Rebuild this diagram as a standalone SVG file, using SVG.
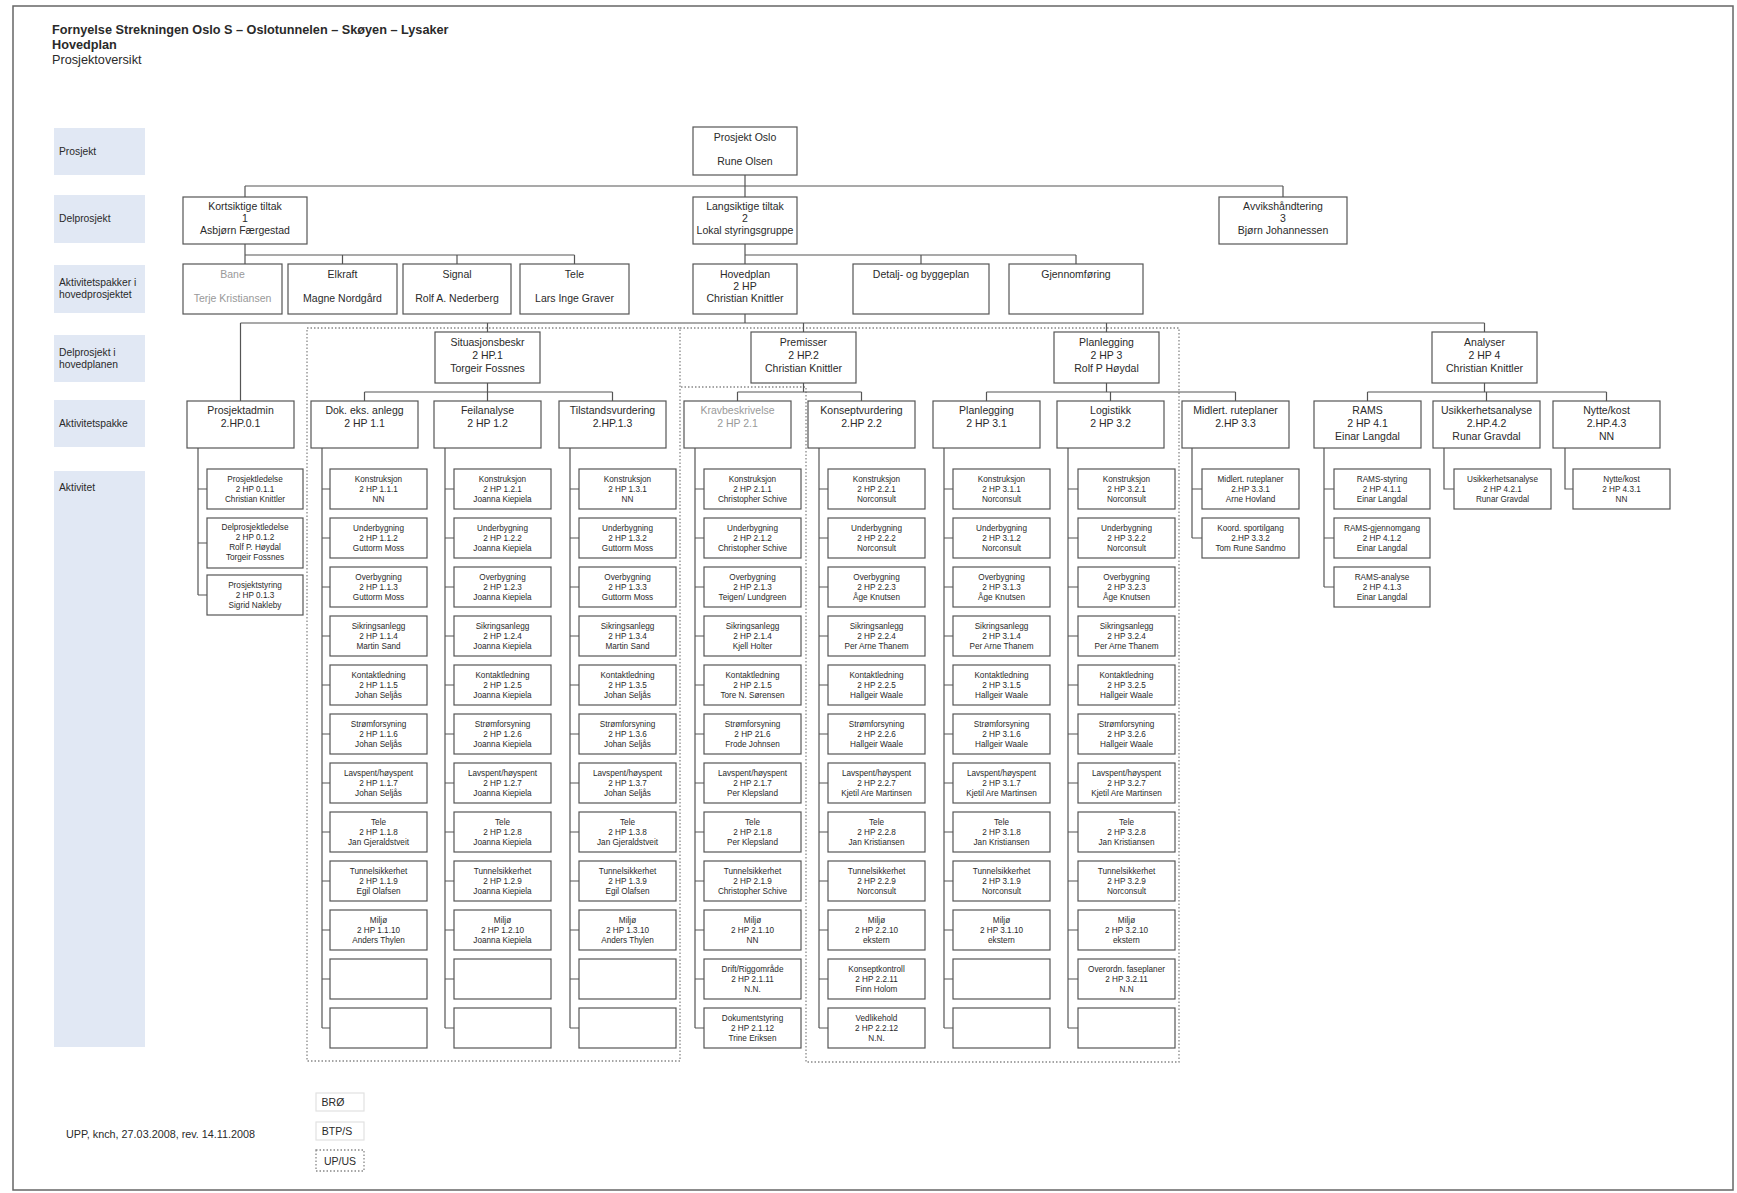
<svg xmlns="http://www.w3.org/2000/svg" width="1737" height="1193" viewBox="0 0 1737 1193">
<style>
text{font-family:"Liberation Sans",Arial,sans-serif;fill:#2a2a2a;text-anchor:middle;font-size:10.5px}
.s{font-size:8.2px}
.l{text-anchor:start;font-size:10.3px}
.g{fill:#999}
.b{fill:#fff;stroke:#555;stroke-width:1.2}
.lab{fill:#e1e8f4}
.c{fill:none;stroke:#555;stroke-width:1.2}
.d{fill:none;stroke:#888;stroke-width:1.3;stroke-dasharray:1.5 2}
.h{text-anchor:start;font-size:12.7px}
</style>
<rect x="0" y="0" width="1737" height="1193" fill="#fff"/>
<rect x="13" y="6" width="1720" height="1184" fill="none" stroke="#666" stroke-width="1.5"/>
<g id="title">
<text class="h" x="52" y="34" font-weight="bold">Fornyelse Strekningen Oslo S – Oslotunnelen – Skøyen – Lysaker</text>
<text class="h" x="52" y="49" font-weight="bold">Hovedplan</text>
<text class="h" x="52" y="64">Prosjektoversikt</text>
</g>
<g id="labels">
<rect class="lab" x="54" y="128" width="91" height="47"/><text class="l" x="59" y="155">Prosjekt</text>
<rect class="lab" x="54" y="195" width="91" height="48"/><text class="l" x="59" y="222">Delprosjekt</text>
<rect class="lab" x="54" y="265" width="91" height="48"/><text class="l" x="59" y="286">Aktivitetspakker i</text><text class="l" x="59" y="298">hovedprosjektet</text>
<rect class="lab" x="54" y="335" width="91" height="47"/><text class="l" x="59" y="356">Delprosjekt i</text><text class="l" x="59" y="368">hovedplanen</text>
<rect class="lab" x="54" y="400" width="91" height="47"/><text class="l" x="59" y="427">Aktivitetspakke</text>
<rect class="lab" x="54" y="471" width="91" height="576"/><text class="l" x="59" y="491">Aktivitet</text>
</g>
<g id="regions">
<rect class="d" x="307" y="328" width="373" height="733"/>
<path class="d" d="M680,328 H1179 V1062 H806 V387 H680"/>
</g>
<g id="connectors">
<path class="c" d="M745,175 V197 M245,186 H1283 M245,186 V197 M1283,186 V197"/>
<path class="c" d="M245,244 V264 M245,255 H574.5 M342.5,255 V264 M457,255 V264 M574.5,255 V264"/>
<path class="c" d="M745,244 V264 M745,255 H1076 M921,255 V264 M1076,255 V264"/>
<path class="c" d="M745,314 V323 M240.5,323 H1484.5 M240.5,323 V401 M487.5,323 V332 M803.5,323 V332 M1106.5,323 V332 M1484.5,323 V332"/>
<path class="c" d="M487.5,383 V392 M364.5,392 H612.5 M364.5,392 V401 M487.5,392 V401 M612.5,392 V401"/>
<path class="c" d="M803.5,383 V392 M737.5,392 H861.5 M737.5,392 V401 M861.5,392 V401"/>
<path class="c" d="M1106.5,383 V392 M986.5,392 H1235.5 M986.5,392 V401 M1110.5,392 V401 M1235.5,392 V401"/>
<path class="c" d="M1484.5,383 V392 M1367.5,392 H1606.5 M1367.5,392 V401 M1486.5,392 V401 M1606.5,392 V401"/>
<path class="c" d="M198,448 V595 M198,489 H207 M198,543 H207 M198,595 H207"/>
<path class="c" d="M322,448 V1028 M322,489 H330 M322,538 H330 M322,587 H330 M322,636 H330 M322,685 H330 M322,734 H330 M322,783 H330 M322,832 H330 M322,881 H330 M322,930 H330 M322,979 H330 M322,1028 H330"/>
<path class="c" d="M445,448 V1028 M445,489 H454 M445,538 H454 M445,587 H454 M445,636 H454 M445,685 H454 M445,734 H454 M445,783 H454 M445,832 H454 M445,881 H454 M445,930 H454 M445,979 H454 M445,1028 H454"/>
<path class="c" d="M570,448 V1028 M570,489 H579 M570,538 H579 M570,587 H579 M570,636 H579 M570,685 H579 M570,734 H579 M570,783 H579 M570,832 H579 M570,881 H579 M570,930 H579 M570,979 H579 M570,1028 H579"/>
<path class="c" d="M695,448 V1028 M695,489 H704 M695,538 H704 M695,587 H704 M695,636 H704 M695,685 H704 M695,734 H704 M695,783 H704 M695,832 H704 M695,881 H704 M695,930 H704 M695,979 H704 M695,1028 H704"/>
<path class="c" d="M819,448 V1028 M819,489 H828 M819,538 H828 M819,587 H828 M819,636 H828 M819,685 H828 M819,734 H828 M819,783 H828 M819,832 H828 M819,881 H828 M819,930 H828 M819,979 H828 M819,1028 H828"/>
<path class="c" d="M944,448 V1028 M944,489 H953 M944,538 H953 M944,587 H953 M944,636 H953 M944,685 H953 M944,734 H953 M944,783 H953 M944,832 H953 M944,881 H953 M944,930 H953 M944,979 H953 M944,1028 H953"/>
<path class="c" d="M1068,448 V1028 M1068,489 H1078 M1068,538 H1078 M1068,587 H1078 M1068,636 H1078 M1068,685 H1078 M1068,734 H1078 M1068,783 H1078 M1068,832 H1078 M1068,881 H1078 M1068,930 H1078 M1068,979 H1078 M1068,1028 H1078"/>
<path class="c" d="M1192,448 V538 M1192,489 H1202 M1192,538 H1202"/>
<path class="c" d="M1324,448 V587 M1324,489 H1334 M1324,538 H1334 M1324,587 H1334"/>
<path class="c" d="M1444,448 V489 H1454"/>
<path class="c" d="M1565,448 V489 H1573"/>
</g>
<g id="n-prosjekt-oslo"><rect class="b" x="693" y="127" width="104" height="48"/><text x="745" y="141">Prosjekt Oslo</text><text x="745" y="165">Rune Olsen</text></g>
<g id="n-kortsiktige"><rect class="b" x="183" y="197" width="124" height="47"/><text><tspan x="245" y="210">Kortsiktige tiltak</tspan><tspan x="245" y="222">1</tspan><tspan x="245" y="234">Asbjørn Færgestad</tspan></text></g>
<g id="n-langsiktige"><rect class="b" x="693" y="197" width="104" height="47"/><text><tspan x="745" y="210">Langsiktige tiltak</tspan><tspan x="745" y="222">2</tspan><tspan x="745" y="234">Lokal styringsgruppe</tspan></text></g>
<g id="n-avvik"><rect class="b" x="1219" y="197" width="128" height="47"/><text><tspan x="1283" y="210">Avvikshåndtering</tspan><tspan x="1283" y="222">3</tspan><tspan x="1283" y="234">Bjørn Johannessen</tspan></text></g>
<g id="n-bane"><rect class="b" x="183" y="264" width="99" height="50"/><text class="g" x="232.5" y="278">Bane</text><text class="g" x="232.5" y="302">Terje Kristiansen</text></g>
<g id="n-elkraft"><rect class="b" x="288" y="264" width="109" height="50"/><text x="342.5" y="278">Elkraft</text><text x="342.5" y="302">Magne Nordgård</text></g>
<g id="n-signal"><rect class="b" x="403" y="264" width="108" height="50"/><text x="457" y="278">Signal</text><text x="457" y="302">Rolf A. Nederberg</text></g>
<g id="n-tele"><rect class="b" x="520" y="264" width="109" height="50"/><text x="574.5" y="278">Tele</text><text x="574.5" y="302">Lars Inge Graver</text></g>
<g id="n-hovedplan"><rect class="b" x="693" y="264" width="104" height="50"/><text><tspan x="745" y="278">Hovedplan</tspan><tspan x="745" y="290">2 HP</tspan><tspan x="745" y="302">Christian Knittler</tspan></text></g>
<g id="n-detalj"><rect class="b" x="853" y="264" width="136" height="50"/><text x="921" y="278">Detalj- og byggeplan</text></g>
<g id="n-gjennomforing"><rect class="b" x="1009" y="264" width="134" height="50"/><text x="1076" y="278">Gjennomføring</text></g>
<g id="n-2hp1"><rect class="b" x="435" y="332" width="105" height="51"/><text><tspan x="487.5" y="346">Situasjonsbeskr</tspan><tspan x="487.5" y="359">2 HP.1</tspan><tspan x="487.5" y="372">Torgeir Fossnes</tspan></text></g>
<g id="n-2hp2"><rect class="b" x="751" y="332" width="105" height="51"/><text><tspan x="803.5" y="346">Premisser</tspan><tspan x="803.5" y="359">2 HP.2</tspan><tspan x="803.5" y="372">Christian Knittler</tspan></text></g>
<g id="n-2hp3"><rect class="b" x="1054" y="332" width="105" height="51"/><text><tspan x="1106.5" y="346">Planlegging</tspan><tspan x="1106.5" y="359">2 HP 3</tspan><tspan x="1106.5" y="372">Rolf P Høydal</tspan></text></g>
<g id="n-2hp4"><rect class="b" x="1432" y="332" width="105" height="51"/><text><tspan x="1484.5" y="346">Analyser</tspan><tspan x="1484.5" y="359">2 HP 4</tspan><tspan x="1484.5" y="372">Christian Knittler</tspan></text></g>
<g id="n-2hp01"><rect class="b" x="187" y="401" width="107" height="47"/><text><tspan x="240.5" y="414">Prosjektadmin</tspan><tspan x="240.5" y="427">2.HP.0.1</tspan></text></g>
<g id="n-2hp11"><rect class="b" x="311" y="401" width="107" height="47"/><text><tspan x="364.5" y="414">Dok. eks. anlegg</tspan><tspan x="364.5" y="427">2 HP 1.1</tspan></text></g>
<g id="n-2hp12"><rect class="b" x="434" y="401" width="107" height="47"/><text><tspan x="487.5" y="414">Feilanalyse</tspan><tspan x="487.5" y="427">2 HP 1.2</tspan></text></g>
<g id="n-2hp13"><rect class="b" x="559" y="401" width="107" height="47"/><text><tspan x="612.5" y="414">Tilstandsvurdering</tspan><tspan x="612.5" y="427">2.HP.1.3</tspan></text></g>
<g id="n-2hp21"><rect class="b" x="684" y="401" width="107" height="47"/><text class="g"><tspan x="737.5" y="414">Kravbeskrivelse</tspan><tspan x="737.5" y="427">2 HP 2.1</tspan></text></g>
<g id="n-2hp22"><rect class="b" x="808" y="401" width="107" height="47"/><text><tspan x="861.5" y="414">Konseptvurdering</tspan><tspan x="861.5" y="427">2.HP 2.2</tspan></text></g>
<g id="n-2hp31"><rect class="b" x="933" y="401" width="107" height="47"/><text><tspan x="986.5" y="414">Planlegging</tspan><tspan x="986.5" y="427">2 HP 3.1</tspan></text></g>
<g id="n-2hp32"><rect class="b" x="1057" y="401" width="107" height="47"/><text><tspan x="1110.5" y="414">Logistikk</tspan><tspan x="1110.5" y="427">2 HP 3.2</tspan></text></g>
<g id="n-2hp33"><rect class="b" x="1182" y="401" width="107" height="47"/><text><tspan x="1235.5" y="414">Midlert. ruteplaner</tspan><tspan x="1235.5" y="427">2.HP 3.3</tspan></text></g>
<g id="n-2hp41"><rect class="b" x="1314" y="401" width="107" height="47"/><text><tspan x="1367.5" y="414">RAMS</tspan><tspan x="1367.5" y="427">2 HP 4.1</tspan><tspan x="1367.5" y="440">Einar Langdal</tspan></text></g>
<g id="n-2hp42"><rect class="b" x="1433" y="401" width="107" height="47"/><text><tspan x="1486.5" y="414">Usikkerhetsanalyse</tspan><tspan x="1486.5" y="427">2.HP.4.2</tspan><tspan x="1486.5" y="440">Runar Gravdal</tspan></text></g>
<g id="n-2hp43"><rect class="b" x="1553" y="401" width="107" height="47"/><text><tspan x="1606.5" y="414">Nytte/kost</tspan><tspan x="1606.5" y="427">2.HP.4.3</tspan><tspan x="1606.5" y="440">NN</tspan></text></g>

<g id="n-2hp011"><rect class="b" x="207" y="469" width="96" height="40"/><text class="s"><tspan x="255" y="482">Prosjektledelse</tspan><tspan x="255" y="492">2 HP 0.1.1</tspan><tspan x="255" y="502">Christian Knittler</tspan></text></g>
<g id="n-2hp012"><rect class="b" x="207" y="518" width="96" height="50"/><text class="s"><tspan x="255" y="530">Delprosjektledelse</tspan><tspan x="255" y="540">2 HP 0.1.2</tspan><tspan x="255" y="550">Rolf P. Høydal</tspan><tspan x="255" y="560">Torgeir Fossnes</tspan></text></g>
<g id="n-2hp013"><rect class="b" x="207" y="575" width="96" height="40"/><text class="s"><tspan x="255" y="588">Prosjektstyring</tspan><tspan x="255" y="598">2 HP 0.1.3</tspan><tspan x="255" y="608">Sigrid Nakleby</tspan></text></g>

<g id="n-2hp111"><rect class="b" x="330" y="469" width="97" height="40"/><text class="s"><tspan x="378.5" y="482">Konstruksjon</tspan><tspan x="378.5" y="492">2 HP 1.1.1</tspan><tspan x="378.5" y="502">NN</tspan></text></g>
<g id="n-2hp112"><rect class="b" x="330" y="518" width="97" height="40"/><text class="s"><tspan x="378.5" y="531">Underbygning</tspan><tspan x="378.5" y="541">2 HP 1.1.2</tspan><tspan x="378.5" y="551">Guttorm Moss</tspan></text></g>
<g id="n-2hp113"><rect class="b" x="330" y="567" width="97" height="40"/><text class="s"><tspan x="378.5" y="580">Overbygning</tspan><tspan x="378.5" y="590">2 HP 1.1.3</tspan><tspan x="378.5" y="600">Guttorm Moss</tspan></text></g>
<g id="n-2hp114"><rect class="b" x="330" y="616" width="97" height="40"/><text class="s"><tspan x="378.5" y="629">Sikringsanlegg</tspan><tspan x="378.5" y="639">2 HP 1.1.4</tspan><tspan x="378.5" y="649">Martin Sand</tspan></text></g>
<g id="n-2hp115"><rect class="b" x="330" y="665" width="97" height="40"/><text class="s"><tspan x="378.5" y="678">Kontaktledning</tspan><tspan x="378.5" y="688">2 HP 1.1.5</tspan><tspan x="378.5" y="698">Johan Seljås</tspan></text></g>
<g id="n-2hp116"><rect class="b" x="330" y="714" width="97" height="40"/><text class="s"><tspan x="378.5" y="727">Strømforsyning</tspan><tspan x="378.5" y="737">2 HP 1.1.6</tspan><tspan x="378.5" y="747">Johan Seljås</tspan></text></g>
<g id="n-2hp117"><rect class="b" x="330" y="763" width="97" height="40"/><text class="s"><tspan x="378.5" y="776">Lavspent/høyspent</tspan><tspan x="378.5" y="786">2 HP 1.1.7</tspan><tspan x="378.5" y="796">Johan Seljås</tspan></text></g>
<g id="n-2hp118"><rect class="b" x="330" y="812" width="97" height="40"/><text class="s"><tspan x="378.5" y="825">Tele</tspan><tspan x="378.5" y="835">2 HP 1.1.8</tspan><tspan x="378.5" y="845">Jan Gjeraldstveit</tspan></text></g>
<g id="n-2hp119"><rect class="b" x="330" y="861" width="97" height="40"/><text class="s"><tspan x="378.5" y="874">Tunnelsikkerhet</tspan><tspan x="378.5" y="884">2 HP 1.1.9</tspan><tspan x="378.5" y="894">Egil Olafsen</tspan></text></g>
<g id="n-2hp1110"><rect class="b" x="330" y="910" width="97" height="40"/><text class="s"><tspan x="378.5" y="923">Miljø</tspan><tspan x="378.5" y="933">2 HP 1.1.10</tspan><tspan x="378.5" y="943">Anders Thylen</tspan></text></g>
<g id="n-2hp11-e1"><rect class="b" x="330" y="959" width="97" height="40"/></g>
<g id="n-2hp11-e2"><rect class="b" x="330" y="1008" width="97" height="40"/></g>

<g id="n-2hp121"><rect class="b" x="454" y="469" width="97" height="40"/><text class="s"><tspan x="502.5" y="482">Konstruksjon</tspan><tspan x="502.5" y="492">2 HP 1.2.1</tspan><tspan x="502.5" y="502">Joanna Kiepiela</tspan></text></g>
<g id="n-2hp122"><rect class="b" x="454" y="518" width="97" height="40"/><text class="s"><tspan x="502.5" y="531">Underbygning</tspan><tspan x="502.5" y="541">2 HP 1.2.2</tspan><tspan x="502.5" y="551">Joanna Kiepiela</tspan></text></g>
<g id="n-2hp123"><rect class="b" x="454" y="567" width="97" height="40"/><text class="s"><tspan x="502.5" y="580">Overbygning</tspan><tspan x="502.5" y="590">2 HP 1.2.3</tspan><tspan x="502.5" y="600">Joanna Kiepiela</tspan></text></g>
<g id="n-2hp124"><rect class="b" x="454" y="616" width="97" height="40"/><text class="s"><tspan x="502.5" y="629">Sikringsanlegg</tspan><tspan x="502.5" y="639">2 HP 1.2.4</tspan><tspan x="502.5" y="649">Joanna Kiepiela</tspan></text></g>
<g id="n-2hp125"><rect class="b" x="454" y="665" width="97" height="40"/><text class="s"><tspan x="502.5" y="678">Kontaktledning</tspan><tspan x="502.5" y="688">2 HP 1.2.5</tspan><tspan x="502.5" y="698">Joanna Kiepiela</tspan></text></g>
<g id="n-2hp126"><rect class="b" x="454" y="714" width="97" height="40"/><text class="s"><tspan x="502.5" y="727">Strømforsyning</tspan><tspan x="502.5" y="737">2 HP 1.2.6</tspan><tspan x="502.5" y="747">Joanna Kiepiela</tspan></text></g>
<g id="n-2hp127"><rect class="b" x="454" y="763" width="97" height="40"/><text class="s"><tspan x="502.5" y="776">Lavspent/høyspent</tspan><tspan x="502.5" y="786">2 HP 1.2.7</tspan><tspan x="502.5" y="796">Joanna Kiepiela</tspan></text></g>
<g id="n-2hp128"><rect class="b" x="454" y="812" width="97" height="40"/><text class="s"><tspan x="502.5" y="825">Tele</tspan><tspan x="502.5" y="835">2 HP 1.2.8</tspan><tspan x="502.5" y="845">Joanna Kiepiela</tspan></text></g>
<g id="n-2hp129"><rect class="b" x="454" y="861" width="97" height="40"/><text class="s"><tspan x="502.5" y="874">Tunnelsikkerhet</tspan><tspan x="502.5" y="884">2 HP 1.2.9</tspan><tspan x="502.5" y="894">Joanna Kiepiela</tspan></text></g>
<g id="n-2hp1210"><rect class="b" x="454" y="910" width="97" height="40"/><text class="s"><tspan x="502.5" y="923">Miljø</tspan><tspan x="502.5" y="933">2 HP 1.2.10</tspan><tspan x="502.5" y="943">Joanna Kiepiela</tspan></text></g>
<g id="n-2hp12-e1"><rect class="b" x="454" y="959" width="97" height="40"/></g>
<g id="n-2hp12-e2"><rect class="b" x="454" y="1008" width="97" height="40"/></g>

<g id="n-2hp131"><rect class="b" x="579" y="469" width="97" height="40"/><text class="s"><tspan x="627.5" y="482">Konstruksjon</tspan><tspan x="627.5" y="492">2 HP 1.3.1</tspan><tspan x="627.5" y="502">NN</tspan></text></g>
<g id="n-2hp132"><rect class="b" x="579" y="518" width="97" height="40"/><text class="s"><tspan x="627.5" y="531">Underbygning</tspan><tspan x="627.5" y="541">2 HP 1.3.2</tspan><tspan x="627.5" y="551">Guttorm Moss</tspan></text></g>
<g id="n-2hp133"><rect class="b" x="579" y="567" width="97" height="40"/><text class="s"><tspan x="627.5" y="580">Overbygning</tspan><tspan x="627.5" y="590">2 HP 1.3.3</tspan><tspan x="627.5" y="600">Guttorm Moss</tspan></text></g>
<g id="n-2hp134"><rect class="b" x="579" y="616" width="97" height="40"/><text class="s"><tspan x="627.5" y="629">Sikringsanlegg</tspan><tspan x="627.5" y="639">2 HP 1.3.4</tspan><tspan x="627.5" y="649">Martin Sand</tspan></text></g>
<g id="n-2hp135"><rect class="b" x="579" y="665" width="97" height="40"/><text class="s"><tspan x="627.5" y="678">Kontaktledning</tspan><tspan x="627.5" y="688">2 HP 1.3.5</tspan><tspan x="627.5" y="698">Johan Seljås</tspan></text></g>
<g id="n-2hp136"><rect class="b" x="579" y="714" width="97" height="40"/><text class="s"><tspan x="627.5" y="727">Strømforsyning</tspan><tspan x="627.5" y="737">2 HP 1.3.6</tspan><tspan x="627.5" y="747">Johan Seljås</tspan></text></g>
<g id="n-2hp137"><rect class="b" x="579" y="763" width="97" height="40"/><text class="s"><tspan x="627.5" y="776">Lavspent/høyspent</tspan><tspan x="627.5" y="786">2 HP 1.3.7</tspan><tspan x="627.5" y="796">Johan Seljås</tspan></text></g>
<g id="n-2hp138"><rect class="b" x="579" y="812" width="97" height="40"/><text class="s"><tspan x="627.5" y="825">Tele</tspan><tspan x="627.5" y="835">2 HP 1.3.8</tspan><tspan x="627.5" y="845">Jan Gjeraldstveit</tspan></text></g>
<g id="n-2hp139"><rect class="b" x="579" y="861" width="97" height="40"/><text class="s"><tspan x="627.5" y="874">Tunnelsikkerhet</tspan><tspan x="627.5" y="884">2 HP 1.3.9</tspan><tspan x="627.5" y="894">Egil Olafsen</tspan></text></g>
<g id="n-2hp1310"><rect class="b" x="579" y="910" width="97" height="40"/><text class="s"><tspan x="627.5" y="923">Miljø</tspan><tspan x="627.5" y="933">2 HP 1.3.10</tspan><tspan x="627.5" y="943">Anders Thylen</tspan></text></g>
<g id="n-2hp13-e1"><rect class="b" x="579" y="959" width="97" height="40"/></g>
<g id="n-2hp13-e2"><rect class="b" x="579" y="1008" width="97" height="40"/></g>

<g id="n-2hp211"><rect class="b" x="704" y="469" width="97" height="40"/><text class="s"><tspan x="752.5" y="482">Konstruksjon</tspan><tspan x="752.5" y="492">2 HP 2.1.1</tspan><tspan x="752.5" y="502">Christopher Schive</tspan></text></g>
<g id="n-2hp212"><rect class="b" x="704" y="518" width="97" height="40"/><text class="s"><tspan x="752.5" y="531">Underbygning</tspan><tspan x="752.5" y="541">2 HP 2.1.2</tspan><tspan x="752.5" y="551">Christopher Schive</tspan></text></g>
<g id="n-2hp213"><rect class="b" x="704" y="567" width="97" height="40"/><text class="s"><tspan x="752.5" y="580">Overbygning</tspan><tspan x="752.5" y="590">2 HP 2.1.3</tspan><tspan x="752.5" y="600">Teigen/ Lundgreen</tspan></text></g>
<g id="n-2hp214"><rect class="b" x="704" y="616" width="97" height="40"/><text class="s"><tspan x="752.5" y="629">Sikringsanlegg</tspan><tspan x="752.5" y="639">2 HP 2.1.4</tspan><tspan x="752.5" y="649">Kjell Holter</tspan></text></g>
<g id="n-2hp215"><rect class="b" x="704" y="665" width="97" height="40"/><text class="s"><tspan x="752.5" y="678">Kontaktledning</tspan><tspan x="752.5" y="688">2 HP 2.1.5</tspan><tspan x="752.5" y="698">Tore N. Sørensen</tspan></text></g>
<g id="n-2hp216"><rect class="b" x="704" y="714" width="97" height="40"/><text class="s"><tspan x="752.5" y="727">Strømforsyning</tspan><tspan x="752.5" y="737">2 HP 21.6</tspan><tspan x="752.5" y="747">Frode Johnsen</tspan></text></g>
<g id="n-2hp217"><rect class="b" x="704" y="763" width="97" height="40"/><text class="s"><tspan x="752.5" y="776">Lavspent/høyspent</tspan><tspan x="752.5" y="786">2 HP 2.1.7</tspan><tspan x="752.5" y="796">Per Klepsland</tspan></text></g>
<g id="n-2hp218"><rect class="b" x="704" y="812" width="97" height="40"/><text class="s"><tspan x="752.5" y="825">Tele</tspan><tspan x="752.5" y="835">2 HP 2.1.8</tspan><tspan x="752.5" y="845">Per Klepsland</tspan></text></g>
<g id="n-2hp219"><rect class="b" x="704" y="861" width="97" height="40"/><text class="s"><tspan x="752.5" y="874">Tunnelsikkerhet</tspan><tspan x="752.5" y="884">2 HP 2.1.9</tspan><tspan x="752.5" y="894">Christopher Schive</tspan></text></g>
<g id="n-2hp2110"><rect class="b" x="704" y="910" width="97" height="40"/><text class="s"><tspan x="752.5" y="923">Miljø</tspan><tspan x="752.5" y="933">2 HP 2.1.10</tspan><tspan x="752.5" y="943">NN</tspan></text></g>
<g id="n-2hp2111"><rect class="b" x="704" y="959" width="97" height="40"/><text class="s"><tspan x="752.5" y="972">Drift/Riggområde</tspan><tspan x="752.5" y="982">2 HP 2.1.11</tspan><tspan x="752.5" y="992">N.N.</tspan></text></g>
<g id="n-2hp2112"><rect class="b" x="704" y="1008" width="97" height="40"/><text class="s"><tspan x="752.5" y="1021">Dokumentstyring</tspan><tspan x="752.5" y="1031">2 HP 2.1.12</tspan><tspan x="752.5" y="1041">Trine Eriksen</tspan></text></g>

<g id="n-2hp221"><rect class="b" x="828" y="469" width="97" height="40"/><text class="s"><tspan x="876.5" y="482">Konstruksjon</tspan><tspan x="876.5" y="492">2 HP 2.2.1</tspan><tspan x="876.5" y="502">Norconsult</tspan></text></g>
<g id="n-2hp222"><rect class="b" x="828" y="518" width="97" height="40"/><text class="s"><tspan x="876.5" y="531">Underbygning</tspan><tspan x="876.5" y="541">2 HP 2.2.2</tspan><tspan x="876.5" y="551">Norconsult</tspan></text></g>
<g id="n-2hp223"><rect class="b" x="828" y="567" width="97" height="40"/><text class="s"><tspan x="876.5" y="580">Overbygning</tspan><tspan x="876.5" y="590">2 HP 2.2.3</tspan><tspan x="876.5" y="600">Åge Knutsen</tspan></text></g>
<g id="n-2hp224"><rect class="b" x="828" y="616" width="97" height="40"/><text class="s"><tspan x="876.5" y="629">Sikringsanlegg</tspan><tspan x="876.5" y="639">2 HP 2.2.4</tspan><tspan x="876.5" y="649">Per Arne Thanem</tspan></text></g>
<g id="n-2hp225"><rect class="b" x="828" y="665" width="97" height="40"/><text class="s"><tspan x="876.5" y="678">Kontaktledning</tspan><tspan x="876.5" y="688">2 HP 2.2.5</tspan><tspan x="876.5" y="698">Hallgeir Waale</tspan></text></g>
<g id="n-2hp226"><rect class="b" x="828" y="714" width="97" height="40"/><text class="s"><tspan x="876.5" y="727">Strømforsyning</tspan><tspan x="876.5" y="737">2 HP 2.2.6</tspan><tspan x="876.5" y="747">Hallgeir Waale</tspan></text></g>
<g id="n-2hp227"><rect class="b" x="828" y="763" width="97" height="40"/><text class="s"><tspan x="876.5" y="776">Lavspent/høyspent</tspan><tspan x="876.5" y="786">2 HP 2.2.7</tspan><tspan x="876.5" y="796">Kjetil Are Martinsen</tspan></text></g>
<g id="n-2hp228"><rect class="b" x="828" y="812" width="97" height="40"/><text class="s"><tspan x="876.5" y="825">Tele</tspan><tspan x="876.5" y="835">2 HP 2.2.8</tspan><tspan x="876.5" y="845">Jan Kristiansen</tspan></text></g>
<g id="n-2hp229"><rect class="b" x="828" y="861" width="97" height="40"/><text class="s"><tspan x="876.5" y="874">Tunnelsikkerhet</tspan><tspan x="876.5" y="884">2 HP 2.2.9</tspan><tspan x="876.5" y="894">Norconsult</tspan></text></g>
<g id="n-2hp2210"><rect class="b" x="828" y="910" width="97" height="40"/><text class="s"><tspan x="876.5" y="923">Miljø</tspan><tspan x="876.5" y="933">2 HP 2.2.10</tspan><tspan x="876.5" y="943">ekstern</tspan></text></g>
<g id="n-2hp2211"><rect class="b" x="828" y="959" width="97" height="40"/><text class="s"><tspan x="876.5" y="972">Konseptkontroll</tspan><tspan x="876.5" y="982">2 HP 2.2.11</tspan><tspan x="876.5" y="992">Finn Holom</tspan></text></g>
<g id="n-2hp2212"><rect class="b" x="828" y="1008" width="97" height="40"/><text class="s"><tspan x="876.5" y="1021">Vedlikehold</tspan><tspan x="876.5" y="1031">2 HP 2.2.12</tspan><tspan x="876.5" y="1041">N.N.</tspan></text></g>

<g id="n-2hp311"><rect class="b" x="953" y="469" width="97" height="40"/><text class="s"><tspan x="1001.5" y="482">Konstruksjon</tspan><tspan x="1001.5" y="492">2 HP 3.1.1</tspan><tspan x="1001.5" y="502">Norconsult</tspan></text></g>
<g id="n-2hp312"><rect class="b" x="953" y="518" width="97" height="40"/><text class="s"><tspan x="1001.5" y="531">Underbygning</tspan><tspan x="1001.5" y="541">2 HP 3.1.2</tspan><tspan x="1001.5" y="551">Norconsult</tspan></text></g>
<g id="n-2hp313"><rect class="b" x="953" y="567" width="97" height="40"/><text class="s"><tspan x="1001.5" y="580">Overbygning</tspan><tspan x="1001.5" y="590">2 HP 3.1.3</tspan><tspan x="1001.5" y="600">Åge Knutsen</tspan></text></g>
<g id="n-2hp314"><rect class="b" x="953" y="616" width="97" height="40"/><text class="s"><tspan x="1001.5" y="629">Sikringsanlegg</tspan><tspan x="1001.5" y="639">2 HP 3.1.4</tspan><tspan x="1001.5" y="649">Per Arne Thanem</tspan></text></g>
<g id="n-2hp315"><rect class="b" x="953" y="665" width="97" height="40"/><text class="s"><tspan x="1001.5" y="678">Kontaktledning</tspan><tspan x="1001.5" y="688">2 HP 3.1.5</tspan><tspan x="1001.5" y="698">Hallgeir Waale</tspan></text></g>
<g id="n-2hp316"><rect class="b" x="953" y="714" width="97" height="40"/><text class="s"><tspan x="1001.5" y="727">Strømforsyning</tspan><tspan x="1001.5" y="737">2 HP 3.1.6</tspan><tspan x="1001.5" y="747">Hallgeir Waale</tspan></text></g>
<g id="n-2hp317"><rect class="b" x="953" y="763" width="97" height="40"/><text class="s"><tspan x="1001.5" y="776">Lavspent/høyspent</tspan><tspan x="1001.5" y="786">2 HP 3.1.7</tspan><tspan x="1001.5" y="796">Kjetil Are Martinsen</tspan></text></g>
<g id="n-2hp318"><rect class="b" x="953" y="812" width="97" height="40"/><text class="s"><tspan x="1001.5" y="825">Tele</tspan><tspan x="1001.5" y="835">2 HP 3.1.8</tspan><tspan x="1001.5" y="845">Jan Kristiansen</tspan></text></g>
<g id="n-2hp319"><rect class="b" x="953" y="861" width="97" height="40"/><text class="s"><tspan x="1001.5" y="874">Tunnelsikkerhet</tspan><tspan x="1001.5" y="884">2 HP 3.1.9</tspan><tspan x="1001.5" y="894">Norconsult</tspan></text></g>
<g id="n-2hp3110"><rect class="b" x="953" y="910" width="97" height="40"/><text class="s"><tspan x="1001.5" y="923">Miljø</tspan><tspan x="1001.5" y="933">2 HP 3.1.10</tspan><tspan x="1001.5" y="943">ekstern</tspan></text></g>
<g id="n-2hp31-e1"><rect class="b" x="953" y="959" width="97" height="40"/></g>
<g id="n-2hp31-e2"><rect class="b" x="953" y="1008" width="97" height="40"/></g>

<g id="n-2hp321"><rect class="b" x="1078" y="469" width="97" height="40"/><text class="s"><tspan x="1126.5" y="482">Konstruksjon</tspan><tspan x="1126.5" y="492">2 HP 3.2.1</tspan><tspan x="1126.5" y="502">Norconsult</tspan></text></g>
<g id="n-2hp322"><rect class="b" x="1078" y="518" width="97" height="40"/><text class="s"><tspan x="1126.5" y="531">Underbygning</tspan><tspan x="1126.5" y="541">2 HP 3.2.2</tspan><tspan x="1126.5" y="551">Norconsult</tspan></text></g>
<g id="n-2hp323"><rect class="b" x="1078" y="567" width="97" height="40"/><text class="s"><tspan x="1126.5" y="580">Overbygning</tspan><tspan x="1126.5" y="590">2 HP 3.2.3</tspan><tspan x="1126.5" y="600">Åge Knutsen</tspan></text></g>
<g id="n-2hp324"><rect class="b" x="1078" y="616" width="97" height="40"/><text class="s"><tspan x="1126.5" y="629">Sikringsanlegg</tspan><tspan x="1126.5" y="639">2 HP 3.2.4</tspan><tspan x="1126.5" y="649">Per Arne Thanem</tspan></text></g>
<g id="n-2hp325"><rect class="b" x="1078" y="665" width="97" height="40"/><text class="s"><tspan x="1126.5" y="678">Kontaktledning</tspan><tspan x="1126.5" y="688">2 HP 3.2.5</tspan><tspan x="1126.5" y="698">Hallgeir Waale</tspan></text></g>
<g id="n-2hp326"><rect class="b" x="1078" y="714" width="97" height="40"/><text class="s"><tspan x="1126.5" y="727">Strømforsyning</tspan><tspan x="1126.5" y="737">2 HP 3.2.6</tspan><tspan x="1126.5" y="747">Hallgeir Waale</tspan></text></g>
<g id="n-2hp327"><rect class="b" x="1078" y="763" width="97" height="40"/><text class="s"><tspan x="1126.5" y="776">Lavspent/høyspent</tspan><tspan x="1126.5" y="786">2 HP 3.2.7</tspan><tspan x="1126.5" y="796">Kjetil Are Martinsen</tspan></text></g>
<g id="n-2hp328"><rect class="b" x="1078" y="812" width="97" height="40"/><text class="s"><tspan x="1126.5" y="825">Tele</tspan><tspan x="1126.5" y="835">2 HP 3.2.8</tspan><tspan x="1126.5" y="845">Jan Kristiansen</tspan></text></g>
<g id="n-2hp329"><rect class="b" x="1078" y="861" width="97" height="40"/><text class="s"><tspan x="1126.5" y="874">Tunnelsikkerhet</tspan><tspan x="1126.5" y="884">2 HP 3.2.9</tspan><tspan x="1126.5" y="894">Norconsult</tspan></text></g>
<g id="n-2hp3210"><rect class="b" x="1078" y="910" width="97" height="40"/><text class="s"><tspan x="1126.5" y="923">Miljø</tspan><tspan x="1126.5" y="933">2 HP 3.2.10</tspan><tspan x="1126.5" y="943">ekstern</tspan></text></g>
<g id="n-2hp3211"><rect class="b" x="1078" y="959" width="97" height="40"/><text class="s"><tspan x="1126.5" y="972">Overordn. faseplaner</tspan><tspan x="1126.5" y="982">2 HP 3.2.11</tspan><tspan x="1126.5" y="992">N.N</tspan></text></g>
<g id="n-2hp32-e2"><rect class="b" x="1078" y="1008" width="97" height="40"/></g>

<g id="n-2hp331"><rect class="b" x="1202" y="469" width="97" height="40"/><text class="s"><tspan x="1250.5" y="482">Midlert. ruteplaner</tspan><tspan x="1250.5" y="492">2.HP 3.3.1</tspan><tspan x="1250.5" y="502">Arne Hovland</tspan></text></g>
<g id="n-2hp332"><rect class="b" x="1202" y="518" width="97" height="40"/><text class="s"><tspan x="1250.5" y="531">Koord. sportilgang</tspan><tspan x="1250.5" y="541">2.HP 3.3.2</tspan><tspan x="1250.5" y="551">Tom Rune Sandmo</tspan></text></g>

<g id="n-2hp411"><rect class="b" x="1334" y="469" width="96" height="40"/><text class="s"><tspan x="1382" y="482">RAMS-styring</tspan><tspan x="1382" y="492">2 HP 4.1.1</tspan><tspan x="1382" y="502">Einar Langdal</tspan></text></g>
<g id="n-2hp412"><rect class="b" x="1334" y="518" width="96" height="40"/><text class="s"><tspan x="1382" y="531">RAMS-gjennomgang</tspan><tspan x="1382" y="541">2 HP 4.1.2</tspan><tspan x="1382" y="551">Einar Langdal</tspan></text></g>
<g id="n-2hp413"><rect class="b" x="1334" y="567" width="96" height="40"/><text class="s"><tspan x="1382" y="580">RAMS-analyse</tspan><tspan x="1382" y="590">2 HP 4.1.3</tspan><tspan x="1382" y="600">Einar Langdal</tspan></text></g>

<g id="n-2hp421"><rect class="b" x="1454" y="469" width="97" height="40"/><text class="s"><tspan x="1502.5" y="482">Usikkerhetsanalyse</tspan><tspan x="1502.5" y="492">2 HP 4.2.1</tspan><tspan x="1502.5" y="502">Runar Gravdal</tspan></text></g>
<g id="n-2hp431"><rect class="b" x="1573" y="469" width="97" height="40"/><text class="s"><tspan x="1621.5" y="482">Nytte/kost</tspan><tspan x="1621.5" y="492">2 HP 4.3.1</tspan><tspan x="1621.5" y="502">NN</tspan></text></g>

<g id="footer">
<text x="66" y="1138" style="text-anchor:start;font-size:10.8px">UPP, knch, 27.03.2008, rev. 14.11.2008</text>
</g>
<g id="legend">
<rect x="316" y="1093" width="48" height="18" fill="#fff" stroke="#e2e2e2" stroke-width="1.2"/><text x="333" y="1106" style="font-size:10.5px">BRØ</text>
<rect x="316" y="1122" width="48" height="18" fill="#fff" stroke="#e2e2e2" stroke-width="1.2"/><text x="337" y="1135" style="font-size:10.5px">BTP/S</text>
<rect class="d" x="316" y="1150" width="48" height="21"/><text x="340" y="1165" style="font-size:10.5px">UP/US</text>
</g>
</svg>
